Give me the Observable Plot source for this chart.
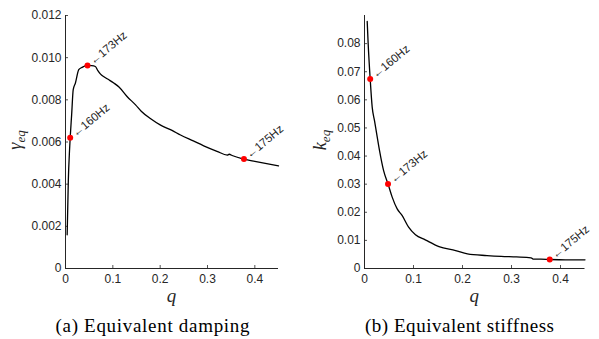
<!DOCTYPE html>
<html><head><meta charset="utf-8">
<script src="https://cdn.jsdelivr.net/npm/d3@7"></script>
<script src="https://cdn.jsdelivr.net/npm/@observablehq/plot@0.6"></script>
<style>
body{margin:0;background:#fff;}
#wrap{display:flex;width:599px;height:339px;}
</style></head>
<body><div id="wrap"></div>
<script>
// damping curve
const qA = [0.0035,0.006,0.0085,0.0099,0.013,0.0163,0.021,0.028,0.035,0.0465,0.055,0.063,0.068,0.074,0.082,0.0916,0.102,0.113,0.130,0.148,0.16,0.18,0.2,0.225,0.243,0.27,0.292,0.32,0.342,0.346,0.352,0.377,0.4,0.425,0.45];
const gA = [0.0016,0.0042,0.0056,0.0062,0.0073,0.00848,0.0088,0.00943,0.00954,0.00963,0.00962,0.00958,0.0094,0.00922,0.00908,0.00895,0.0088,0.00861,0.00816,0.00776,0.00746,0.0071,0.00681,0.00655,0.00633,0.00605,0.00582,0.00556,0.00538,0.00542,0.00536,0.00519,0.00508,0.00497,0.00487];
// stiffness curve
const qB = [0.0055,0.0075,0.0116,0.0157,0.0204,0.026,0.0306,0.039,0.048,0.0565,0.0667,0.077,0.090,0.104,0.124,0.152,0.186,0.21,0.25,0.279,0.31,0.340,0.345,0.36,0.378,0.41,0.45];
const kB = [0.0879,0.0799,0.0674,0.0574,0.0526,0.0467,0.042,0.0348,0.0301,0.0254,0.0212,0.0188,0.0147,0.012,0.0102,0.0078,0.0064,0.0052,0.0046,0.0043,0.0041,0.0038,0.0033,0.0033,0.0032,0.0031,0.0031];
// marked points
const markLabels = ["160Hz","173Hz","175Hz"];
const markQA = [0.0099,0.0465,0.377];
const markGA = [0.0062,0.00963,0.00519];
const markQB = [0.0116,0.048,0.378];
const markKB = [0.0674,0.0301,0.0032];
const xTicks = [0,0.1,0.2,0.3,0.4];
const yTicksA = [0,0.002,0.004,0.006,0.008,0.010,0.012];
const yTicksB = [0,0.01,0.02,0.03,0.04,0.05,0.06,0.07,0.08];
const captions = ["(a) Equivalent damping","(b) Equivalent stiffness"];

const axisColor = "#262626";
const font = "Liberation Sans, Arial, sans-serif";
const serif = "Liberation Serif, serif";

function panel(opts){
  const line = opts.q.map((q,i)=>({q, v: opts.v[i]}));
  const pts = opts.mq.map((q,i)=>({q, v: opts.mv[i], label: "\u2190" + markLabels[i]}));
  const p = Plot.plot({
    width: opts.width, height: 339,
    marginLeft: opts.ml, marginRight: opts.mr, marginTop: 15, marginBottom: 71,
    style: {fontFamily: font, fontSize: "12px", color: axisColor, background: "#fff"},
    x: {domain: [0,0.45], label: null},
    y: {domain: opts.ydom, label: null},
    marks: [
      Plot.axisX({ticks: xTicks, tickSize: -3, tickPadding: 9, tickFormat: d => d===0 ? "0" : d3.format(".1f")(d), fill: axisColor, stroke: axisColor, strokeWidth: 0.8, fontSize: 12}),
      Plot.axisY({ticks: opts.yticks, tickSize: -3, tickPadding: 7, tickFormat: opts.fmt, fill: axisColor, stroke: axisColor, strokeWidth: 0.8, fontSize: 12}),
      Plot.ruleX([0], {stroke: axisColor, strokeWidth: 1}),
      Plot.ruleY([0], {stroke: axisColor, strokeWidth: 1}),
      Plot.line(line, {x: "q", y: "v", stroke: "#000", strokeWidth: 1.3, curve: "monotone-x"}),
      Plot.dot(pts, {x: "q", y: "v", r: 3, fill: "#ff0000", stroke: "none"}),
      Plot.text(pts, {x: "q", y: "v", text: "label", rotate: -40, textAnchor: "start", dx: 3.5, dy: -3, fontSize: 11.5, fill: axisColor, fontFamily: font})
    ]
  });
  const svg = d3.select(p);
  const yl = svg.append("text").attr("transform", `translate(${opts.ylx},140) rotate(-90)`)
    .attr("text-anchor","middle").attr("font-family",serif).attr("font-style","italic").attr("font-size", 18).attr("fill", axisColor);
  yl.append("tspan").text(opts.ysym);
  yl.append("tspan").attr("dy", 4).attr("font-size", 13).text("eq");
  const cx = opts.ml + (opts.width-opts.ml-opts.mr)/2;
  svg.append("text").attr("x", cx).attr("y", 302)
    .attr("text-anchor","middle").attr("font-family",serif).attr("font-style","italic").attr("font-size",19).attr("fill",axisColor).text("q");
  svg.append("text").attr("x", opts.capx).attr("y", 332)
    .attr("text-anchor","middle").attr("font-family",serif).attr("font-size",19).attr("fill","#000")
    .attr("textLength", opts.capw).attr("lengthAdjust","spacing").text(opts.caption);
  return p;
}

const pa = panel({q:qA, v:gA, mq:markQA, mv:markGA, width:300, ml:65, mr:22, ydom:[0,0.012], yticks:yTicksA,
  fmt: d => d===0 ? "0" : d3.format(".3f")(d), ylx: 21, ysym: "\u03B3", caption: captions[0], capx: 152.5, capw: 194});
const pb = panel({q:qB, v:kB, mq:markQB, mv:markKB, width:299, ml:64, mr:14.5, ydom:[0,0.09], yticks:yTicksB,
  fmt: d => d===0 ? "0" : d3.format(".2f")(d), ylx: 26, ysym: "k", caption: captions[1], capx: 159.5, capw: 189});
document.getElementById("wrap").appendChild(pa);
document.getElementById("wrap").appendChild(pb);
</script></body></html>
